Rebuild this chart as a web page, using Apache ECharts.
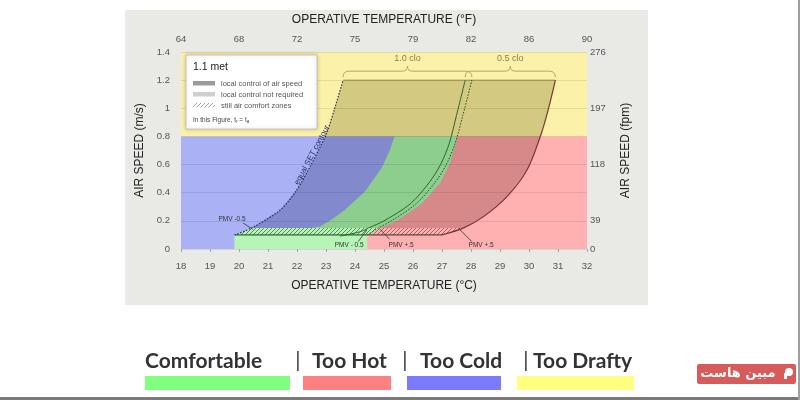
<!DOCTYPE html>
<html>
<head>
<meta charset="utf-8">
<script src="https://cdn.jsdelivr.net/npm/echarts@6/dist/echarts.min.js"></script>
<style>
  html, body { margin: 0; background: #fff; }
  #chart { width: 800px; height: 400px; }
</style>
</head>
<body>
<div id="chart"></div>
<script>
// tick labels
const fahrenheitLabels = ['64', '68', '72', '75', '79', '82', '86', '90']; // at 18, 20 ... 32 °C
const fpmTicks = [0, 0.2, 0.6, 1.0, 1.4];
const fpmLabels = ['0', '39', '118', '197', '276'];

// boundaries, [operative temperature °C, air speed m/s]
const draftLimit = 0.8;
const setContour = [[19.85, 0.1], [20.44, 0.15], [21.42, 0.277], [21.99, 0.419], [22.45, 0.585], [22.8, 0.727], [23.02, 0.82], [23.3, 1.0], [23.59, 1.2]];
const blueGreenEdge = [[22.5, 0.15], [22.8, 0.16], [23.2, 0.21], [23.65, 0.277], [24.35, 0.41], [24.92, 0.575], [25.2, 0.7], [25.36, 0.8]];
const greenRedEdge = [[24.42, 0], [24.42, 0.085], [24.62, 0.125], [25.45, 0.2], [26.3, 0.32], [26.95, 0.47], [27.3, 0.62], [27.47, 0.75], [27.52, 0.8]];
const clo10Edge = [[24.42, 0.1], [24.82, 0.15], [25.25, 0.2], [26.1, 0.32], [26.75, 0.47], [27.15, 0.6], [27.45, 0.75], [27.72, 0.95], [28.03, 1.2]];
const clo05Edge = [[23.49, 0.092], [24.18, 0.123], [24.47, 0.15], [25.0, 0.2], [25.9, 0.32], [26.55, 0.47], [26.95, 0.6], [27.25, 0.75], [27.5, 0.95], [27.8, 1.2]];
const clo05Right = [[27.0, 0.1], [27.75, 0.15], [28.43, 0.23], [29.24, 0.372], [29.93, 0.561], [30.39, 0.8], [30.65, 0.98], [30.91, 1.2]];

const pmvNotes = [
  { text: 'PMV -0.5', label: [19.76, 0.21], from: [20.14, 0.185], to: [20.47, 0.14] },
  { text: 'PMV - 0.5', label: [23.8, 0.028], from: [24.11, 0.052], to: [24.41, 0.135] },
  { text: 'PMV +.5', label: [25.59, 0.028], from: [25.19, 0.069], to: [24.87, 0.14] },
  { text: 'PMV +.5', label: [28.35, 0.028], from: [28.03, 0.052], to: [27.57, 0.147] }
];
const setLabelAt = [22.52, 0.668];

const legendItems = ['Comfortable', 'Too Hot', 'Too Cold', 'Too Drafty'];
const legendColors = ['#80ff80', '#ff8080', '#7b7bff', '#ffff80'];

// regions built from the boundaries
const yellowRegion = [[18, draftLimit], [32, draftLimit], [32, 1.4], [18, 1.4]];
const blueRegion = [[18, 0], [setContour[0][0], 0], setContour[0], setContour[1], ...blueGreenEdge, [18, draftLimit]];
const greenRegion = [[setContour[0][0], 0], ...greenRedEdge, ...blueGreenEdge.slice().reverse(), setContour[1], setContour[0]];
const redRegion = [...greenRedEdge, [32, draftLimit], [32, 0]];
const zoneA = setContour.slice(1).concat(clo10Edge.slice(1).reverse());
const zoneB = clo05Edge.slice(2).concat(clo05Right.slice(1).reverse());
const greenBand = [setContour[0], clo10Edge[0], clo10Edge[1], setContour[1]];
const redBand = [clo10Edge[0], clo05Right[0], clo05Right[1], clo10Edge[1]];
const braces = [
  { label: '1.0 clo', from: setContour[setContour.length - 1][0], to: clo10Edge[clo10Edge.length - 1][0], v: 1.2 },
  { label: '0.5 clo', from: clo05Edge[clo05Edge.length - 1][0], to: clo05Right[clo05Right.length - 1][0], v: 1.2 }
];

const hatch = (color) => {
  const c = document.createElement('canvas');
  c.width = c.height = 4;
  const g = c.getContext('2d');
  g.strokeStyle = color;
  g.lineWidth = 0.8;
  g.beginPath();
  g.moveTo(0, 4); g.lineTo(4, 0);
  g.moveTo(-1, 1); g.lineTo(1, -1);
  g.moveTo(3, 5); g.lineTo(5, 3);
  g.stroke();
  return { image: c, repeat: 'repeat' };
};

const FONT = 'Liberation Sans';

const shapeSeries = (z, build) => ({
  type: 'custom',
  coordinateSystem: 'cartesian2d',
  z,
  silent: true,
  clip: false,
  data: [[18, 0]],
  renderItem: (params, api) => build(api)
});
const pts = (api, arr) => arr.map(p => api.coord(p));
const polygon = (arr, style) => api => ({ type: 'polygon', shape: { points: pts(api, arr) }, style });
const curve = (arr, style, smooth) => api => ({ type: 'polyline', shape: { points: pts(api, arr), smooth: smooth || 0 }, style: Object.assign({ fill: null }, style) });
const txt = (x, y, text, font, fill, extra) => ({
  type: 'text', z: 100,
  style: Object.assign({ x, y, text, font, fill, verticalAlign: 'middle', textVerticalAlign: 'middle' }, extra || {})
});
const box = (x, y, width, height, style) => ({ type: 'rect', z: 100, shape: { x, y, width, height }, style });

const chart = echarts.init(document.getElementById('chart'));

chart.setOption({
  animation: false,
  textStyle: { fontFamily: FONT },
  grid: { left: 181, right: 213, top: 52, bottom: 151, show: true, backgroundColor: '#fff', borderWidth: 0 },
  xAxis: [
    {
      type: 'value', min: 18, max: 32, interval: 1, position: 'bottom',
      axisLine: { show: false },
      axisTick: { show: true, length: 3, lineStyle: { color: '#aaa' } },
      axisLabel: { color: '#555', fontSize: 9.5, margin: 12 },
      splitLine: { show: false },
      name: 'OPERATIVE TEMPERATURE (°C)', nameLocation: 'middle', nameGap: 31,
      nameTextStyle: { color: '#222', fontSize: 12 }
    },
    {
      type: 'value', min: 18, max: 32, interval: 2, position: 'top',
      axisLine: { show: false }, axisTick: { show: false },
      axisLabel: { color: '#555', fontSize: 9.5, margin: 8, formatter: v => fahrenheitLabels[Math.round((v - 18) / 2)] },
      splitLine: { show: false },
      name: 'OPERATIVE TEMPERATURE (°F)', nameLocation: 'middle', nameGap: 26,
      nameTextStyle: { color: '#222', fontSize: 12 }
    }
  ],
  yAxis: [
    {
      type: 'value', min: 0, max: 1.4, interval: 0.2, position: 'left', z: 3,
      axisLine: { show: false }, axisTick: { show: false },
      axisLabel: { color: '#555', fontSize: 9.5, margin: 11, formatter: v => String(+v.toFixed(1)) },
      splitLine: { show: true, lineStyle: { color: 'rgba(0,0,0,0.09)', width: 1 } },
      name: 'AIR SPEED (m/s)', nameLocation: 'middle', nameGap: 31, nameRotate: 90,
      nameTextStyle: { color: '#222', fontSize: 12 }
    },
    {
      type: 'value', min: 0, max: 1.4, interval: 0.2, position: 'right',
      axisLine: { show: false }, axisTick: { show: false },
      axisLabel: {
        color: '#555', fontSize: 9.5, margin: 3,
        formatter: v => { const i = fpmTicks.findIndex(t => Math.abs(t - v) < 1e-6); return i < 0 ? '' : fpmLabels[i]; }
      },
      splitLine: { show: false },
      name: 'AIR SPEED (fpm)', nameLocation: 'middle', nameGap: 33, nameRotate: 90,
      nameTextStyle: { color: '#222', fontSize: 12 }
    }
  ],
  series: [
    // gray comfort zones (air speed control)
    shapeSeries(1, polygon(zoneA, { fill: '#9b9b9b' })),
    shapeSeries(1, polygon(zoneB, { fill: '#9b9b9b' })),
    // coloured overlays
    shapeSeries(2, polygon(yellowRegion, { fill: 'rgba(250,232,110,0.6)' })),
    shapeSeries(2, polygon(blueRegion, { fill: 'rgba(113,127,238,0.6)' })),
    shapeSeries(2, polygon(greenRegion, { fill: 'rgba(132,238,132,0.6)' })),
    shapeSeries(2, polygon(redRegion, { fill: 'rgba(255,123,123,0.6)' })),
    // still air zones
    shapeSeries(4, polygon(greenBand, { fill: hatch('rgba(20,70,20,0.75)') })),
    shapeSeries(4, polygon(redBand, { fill: hatch('rgba(110,30,30,0.7)') })),
    // boundary lines
    shapeSeries(5, curve([setContour[0], clo05Right[0]], { stroke: '#2a3a2a', lineWidth: 1 })),
    shapeSeries(5, curve([setContour[setContour.length - 1], clo05Right[clo05Right.length - 1]], { stroke: 'rgba(120,105,50,0.7)', lineWidth: 1 })),
    shapeSeries(5, curve(setContour, { stroke: '#2a2f5a', lineWidth: 1.2, lineDash: [1.5, 1.5] }, 0.3)),
    shapeSeries(5, curve(clo10Edge, { stroke: '#1d4f1d', lineWidth: 1, lineDash: [1.5, 1.5] }, 0.3)),
    shapeSeries(5, curve(clo05Edge, { stroke: '#2b682b', lineWidth: 1 }, 0.3)),
    shapeSeries(5, curve(clo05Right, { stroke: '#7b3434', lineWidth: 1.2 }, 0.3)),
    // braces
    shapeSeries(6, api => ({
      type: 'group',
      children: braces.flatMap(b => {
        const a = api.coord([b.from, b.v]);
        const e = api.coord([b.to, b.v]);
        const y = a[1], m = (a[0] + e[0]) / 2;
        const d = `M${a[0]} ${y - 3} Q${a[0]} ${y - 9} ${a[0] + 6} ${y - 9} L${m - 5} ${y - 9} Q${m} ${y - 9} ${m} ${y - 14} ` +
          `Q${m} ${y - 9} ${m + 5} ${y - 9} L${e[0] - 6} ${y - 9} Q${e[0]} ${y - 9} ${e[0]} ${y - 3}`;
        return [
          { type: 'path', shape: { pathData: d }, style: { fill: null, stroke: '#b3a36b', lineWidth: 1 } },
          { type: 'text', x: m, y: y - 22, style: { text: b.label, fill: '#8c7d50', fontSize: 9, fontFamily: FONT, align: 'center', verticalAlign: 'middle', textAlign: 'center', textVerticalAlign: 'middle' } }
        ];
      })
    })),
    // PMV notes and SET label
    shapeSeries(6, api => ({
      type: 'group',
      children: pmvNotes.flatMap(n => {
        const l = api.coord(n.label), f = api.coord(n.from), t = api.coord(n.to);
        return [
          { type: 'line', shape: { x1: f[0], y1: f[1], x2: t[0], y2: t[1] }, style: { stroke: '#333', lineWidth: 0.8 } },
          { type: 'text', x: l[0], y: l[1], style: { text: n.text, fill: '#333', fontSize: 6.5, fontFamily: FONT, align: 'center', verticalAlign: 'middle', textAlign: 'center', textVerticalAlign: 'middle' } }
        ];
      }).concat([(() => {
        const p = api.coord(setLabelAt);
        return { type: 'text', x: p[0], y: p[1], rotation: 62 * Math.PI / 180,
          style: { text: 'equal SET contour', fill: '#262c66', fontSize: 8, fontFamily: FONT, align: 'center', verticalAlign: 'middle', textAlign: 'center', textVerticalAlign: 'middle' } };
      })()])
    }))
  ],
  graphic: [
    // panel behind chart
    { type: 'rect', z: -10, silent: true, shape: { x: 125, y: 10, width: 523, height: 295 }, style: { fill: '#e9e9e6' } },
    // in-chart key
    box(186, 55, 131, 74, { fill: '#fff', stroke: '#c4c4c4', lineWidth: 1, shadowBlur: 4, shadowColor: 'rgba(0,0,0,0.2)' }),
    txt(193, 67, '1.1 met', `10.5px "${FONT}"`, '#222'),
    box(193, 81, 22, 4.5, { fill: '#9b9b9b' }),
    txt(221, 83.5, 'local control of air speed', `7.5px "${FONT}"`, '#555'),
    box(193, 92, 22, 4.5, { fill: '#cfcfcf' }),
    txt(221, 94.5, 'local control not required', `7.5px "${FONT}"`, '#555'),
    box(193, 103, 22, 4.5, { fill: hatch('#888') }),
    txt(221, 105.5, 'still air comfort zones', `7.5px "${FONT}"`, '#555'),
    txt(193, 120, 'In this Figure, t{s|r} = t{s|a}', `6.5px "${FONT}"`, '#444',
      { rich: { s: { fontSize: 4.5, fill: '#444', padding: [3, 0, 0, 0] } } }),
    // key under the chart
    txt(145, 361, legendItems[0], 'bold 21px Lato', '#333'),
    txt(298, 360, '|', '21px Lato', '#333', { align: 'center', textAlign: 'center' }),
    txt(312, 361, legendItems[1], 'bold 21px Lato', '#333'),
    txt(405, 360, '|', '21px Lato', '#333', { align: 'center', textAlign: 'center' }),
    txt(420, 361, legendItems[2], 'bold 21px Lato', '#333'),
    txt(526, 360, '|', '21px Lato', '#333', { align: 'center', textAlign: 'center' }),
    txt(533, 361, legendItems[3], 'bold 21px Lato', '#333'),
    box(145, 376, 145, 14, { fill: legendColors[0] }),
    box(303, 376, 88, 14, { fill: legendColors[1] }),
    box(407, 376, 94, 14, { fill: legendColors[2] }),
    box(517, 376, 117, 14, { fill: legendColors[3] }),
    // site badge and page edges
    { type: 'rect', z: 100, shape: { x: 697, y: 364, width: 99, height: 20, r: 2 }, style: { fill: '#d85b5b' } },
    txt(738, 374, 'مبین هاست', 'bold 13px "DejaVu Sans"', '#fff', { align: 'center', textAlign: 'center' }),
    { type: 'circle', z: 100, shape: { cx: 789, cy: 372, r: 4 }, style: { fill: '#fff' } },
    box(784, 373, 3, 6, { fill: '#fff' }),
    box(0, 397, 800, 3, { fill: '#7a7a7a' }),
    box(798, 0, 2, 400, { fill: '#a0a0a0' })
  ]
});
</script>
</body>
</html>
